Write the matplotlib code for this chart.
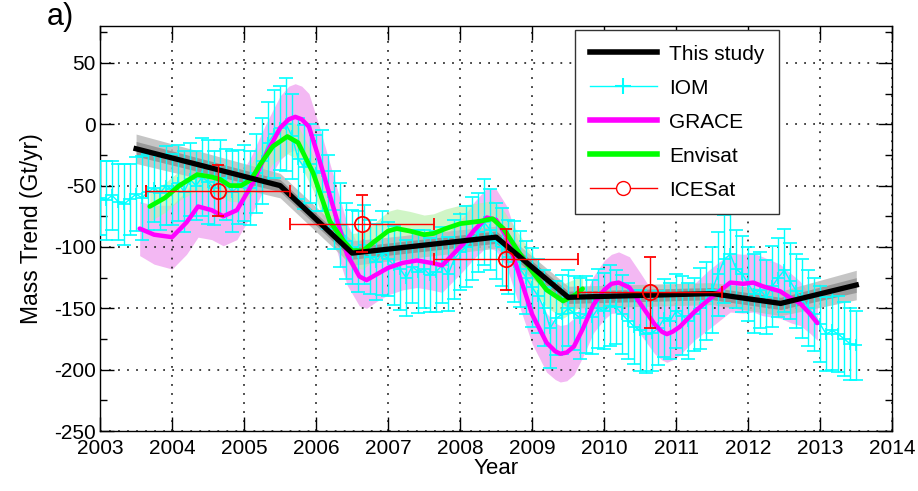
import matplotlib
matplotlib.use("Agg")
import matplotlib.pyplot as plt
import numpy as np
from matplotlib.ticker import MultipleLocator
from matplotlib.lines import Line2D

plt.rcParams['font.family'] = ['Liberation Sans', 'DejaVu Sans']
plt.rcParams['axes.unicode_minus'] = False

# ---------------- data ----------------
# This study (piecewise trend) and its uncertainty bands
study_year = [2003.5, 2005.5, 2006.5, 2008.5, 2009.5, 2011.5, 2012.45, 2013.5]
study_val = [-20, -50, -105, -92, -141, -138, -146, -131]
study_err_outer = [12, 10, 10, 9, 9, 9, 10, 12]
study_err_inner = [6, 5, 5, 5, 5, 5, 5, 6]

# IOM monthly values 2003.0 .. 2013.5
iom_val = [
    -60, -62, -58, -63, -65, -61, -57, -60, -55, -52, -56, -50,
    -53, -48, -55, -45, -50, -43, -47, -52, -44, -49, -55, -51,
    -48, -52, -40, -30, -15, -8, -3, 0, -10, -28, -35, -32,
    -40, -38, -55, -70, -82, -95, -100, -104, -98, -108, -112, -105,
    -110, -115, -118, -125, -116, -120, -118, -123, -120, -115, -122, -110,
    -104, -100, -93, -88, -80, -86, -95, -100, -108, -112, -118, -125,
    -133, -140, -150, -166, -158, -155, -150, -154, -158, -155, -157, -150,
    -152, -148, -149, -155, -160, -165, -168, -171, -170, -166, -158, -160,
    -152, -156, -160, -155, -150, -144, -135, -122, -110, -106, -118, -122,
    -130, -138, -135, -141, -132, -125, -119, -128, -136, -142, -150, -155,
    -163, -171, -168, -171, -175, -179, -180,
]
iom_err = [
    30, 32, 28, 31, 33, 29, 30, 34, 31, 28, 30, 32,
    29, 31, 33, 30, 28, 32, 34, 30, 31, 29, 33, 30,
    31, 30, 32, 35, 33, 36, 34, 38, 35, 33, 34, 32,
    31, 33, 30, 32, 34, 31, 30, 33, 32, 30, 31, 34,
    30, 32, 33, 31, 30, 34, 32, 30, 33, 31, 30, 32,
    31, 33, 34, 32, 35, 33, 31, 32, 30, 33, 31, 30,
    32, 30, 31, 33, 30, 32, 31, 30, 33, 31, 30, 32,
    31, 33, 30, 32, 31, 30, 33, 32, 31, 30, 32, 31,
    30, 32, 31, 30, 33, 32, 35, 34, 36, 33, 32, 31,
    30, 32, 31, 30, 33, 32, 34, 31, 30, 32, 31, 30,
    31, 30, 32, 31, 30, 29, 28,
]
iom_year = [2003.0 + i / 12.0 for i in range(len(iom_val))]

# GRACE
grace_year = [2003.55, 2003.75, 2004.0, 2004.2, 2004.36, 2004.55, 2004.71, 2004.9,
              2005.1, 2005.3, 2005.5, 2005.62, 2005.71, 2005.8, 2005.9, 2006.05,
              2006.24, 2006.43, 2006.6, 2006.7, 2006.85, 2007.0, 2007.2, 2007.4,
              2007.6, 2007.75, 2007.9, 2008.05, 2008.2, 2008.37, 2008.5, 2008.65,
              2008.85, 2009.0, 2009.2, 2009.32, 2009.39, 2009.48, 2009.58, 2009.7,
              2009.85, 2010.0, 2010.1, 2010.2, 2010.35, 2010.5, 2010.7, 2010.8,
              2010.87, 2010.95, 2011.05, 2011.25, 2011.45, 2011.6, 2011.75, 2011.93,
              2012.07, 2012.2, 2012.44, 2012.6, 2012.72, 2012.85, 2012.96]
grace_val = [-85, -90, -92, -80, -67, -70, -75, -70,
             -50, -25, -3, 4, 6, 4, -2, -30,
             -68, -106, -124, -127, -122, -117, -113, -111,
             -113, -115, -106, -97, -86, -76, -78, -92,
             -128, -155, -178, -185, -187, -186, -181, -167,
             -147, -135, -130, -129, -133, -146, -163, -169,
             -171, -169, -165, -153, -143, -136, -129, -130,
             -129, -132, -136, -142, -146, -154, -162]
grace_err = [22, 24, 26, 26, 25, 24, 24, 24,
             24, 25, 26, 27, 27, 27, 27, 27,
             26, 25, 24, 23, 22, 22, 22, 22,
             22, 22, 22, 22, 23, 24, 25, 25,
             25, 24, 24, 23, 23, 23, 23, 23,
             23, 24, 24, 25, 25, 25, 24, 23,
             23, 23, 23, 23, 24, 24, 24, 24,
             24, 24, 22, 20, 18, 16, 14]

# Envisat
env_year = [2003.69, 2003.9, 2004.1, 2004.35, 2004.55, 2004.67, 2004.8, 2004.96,
            2005.1, 2005.22, 2005.4, 2005.6, 2005.75, 2005.96, 2006.19, 2006.38,
            2006.5, 2006.65, 2006.8, 2007.0, 2007.12, 2007.3, 2007.5, 2007.63,
            2007.8, 2008.0, 2008.28, 2008.45, 2008.6, 2008.8, 2009.0, 2009.2,
            2009.43, 2009.6, 2009.7]
env_val = [-67, -60, -50, -41, -43, -45, -50, -50,
           -45, -33, -18, -10, -15, -40, -79, -95,
           -103, -103, -96, -87, -85, -87, -90, -89,
           -85, -81, -79, -77, -85, -103, -120, -135,
           -144, -139, -134]
env_err = [12, 12, 12, 13, 13, 13, 13, 13,
           13, 14, 14, 14, 14, 14, 14, 14,
           14, 15, 15, 16, 16, 16, 16, 16,
           16, 15, 15, 15, 15, 15, 14, 14,
           14, 13, 12]

# ICESat
ice_year = [2004.64, 2006.64, 2008.64, 2010.64]
ice_val = [-54, -81, -110, -137]
ice_xerr = [1.0, 1.0, 1.0, 1.0]
ice_yerr = [21, 23, 25, 29]

x_ticks = list(range(2003, 2015))
y_ticks = list(range(-250, 51, 50))

# ---------------- plot ----------------
fig = plt.figure(figsize=(9.18, 4.91), dpi=100)
ax = fig.add_axes([0.109, 0.122, 0.863, 0.825])

gy = np.array(grace_val); ge = np.array(grace_err)
ax.fill_between(grace_year, gy - ge, gy + ge, color='#f3b8f3', lw=0, zorder=1)
ey = np.array(env_val); ee = np.array(env_err)
ax.fill_between(env_year, ey - ee, ey + ee, color='#b8f0a8', alpha=0.65, lw=0, zorder=2)
sy = np.array(study_val)
ax.fill_between(study_year, sy - np.array(study_err_outer), sy + np.array(study_err_outer),
                color='#bbbbbb', alpha=0.85, lw=0, zorder=3)
ax.fill_between(study_year, sy - np.array(study_err_inner), sy + np.array(study_err_inner),
                color='#808080', alpha=0.65, lw=0, zorder=3)

ax.errorbar(iom_year, iom_val, yerr=iom_err, color='#00ffff', lw=1.0, elinewidth=1.0,
            capsize=5, marker='+', ms=8, mew=1.2, zorder=4)

ax.plot(grace_year, grace_val, color='#ff00ff', lw=3.2, zorder=5,
        solid_capstyle='round', solid_joinstyle='round')
ax.plot(env_year, env_val, color='#00ff00', lw=3.4, zorder=6,
        solid_capstyle='round', solid_joinstyle='round')
ax.plot(study_year, study_val, color='black', lw=3.8, zorder=7)

ax.errorbar(ice_year, ice_val, xerr=ice_xerr, yerr=ice_yerr, fmt='o', color='red',
            mfc='none', mec='red', ms=11, mew=1.3, elinewidth=1.0, capsize=4, zorder=8)

ax.set_xlim(2003, 2014)
ax.set_ylim(-250, 80)
ax.set_xticks(x_ticks)
ax.set_yticks(y_ticks)
ax.yaxis.set_minor_locator(MultipleLocator(25))
ax.tick_params(axis='both', which='major', direction='in', length=10, width=1,
               labelsize=15, top=True, right=True)
ax.tick_params(axis='x', which='major', pad=6)
ax.tick_params(axis='y', which='major', pad=3)
ax.tick_params(axis='y', which='minor', direction='in', length=5, width=1, right=True)
ax.grid(True, which='major', color='#333333', linestyle=(0, (1, 4)), lw=1.3)
for s in ax.spines.values():
    s.set_linewidth(1.0)

ax.set_xlabel('Year', fontsize=16, labelpad=0)
ax.set_ylabel('Mass Trend (Gt/yr)', fontsize=16.5, labelpad=8)
fig.text(0.066, 0.965, 'a)', fontsize=22, ha='center', va='center')

handles = [
    Line2D([], [], color='black', lw=4),
    Line2D([], [], color='#00ffff', lw=1, marker='+', ms=12, mew=1.5),
    Line2D([], [], color='#ff00ff', lw=4),
    Line2D([], [], color='#00ff00', lw=4),
    Line2D([], [], color='red', lw=1, marker='o', mfc='white', mec='red', ms=10),
]
labels = ['This study', 'IOM', 'GRACE', 'Envisat', 'ICESat']
leg = ax.legend(handles, labels, loc='upper right', bbox_to_anchor=(0.857, 0.99),
                borderaxespad=0, fontsize=15, frameon=True, fancybox=False,
                edgecolor='#333333', framealpha=1, handlelength=3.2,
                handletextpad=0.6, borderpad=0.7, labelspacing=0.72)
leg.get_frame().set_linewidth(1.0)
leg.set_zorder(20)

fig.savefig('out.png', dpi=100)
